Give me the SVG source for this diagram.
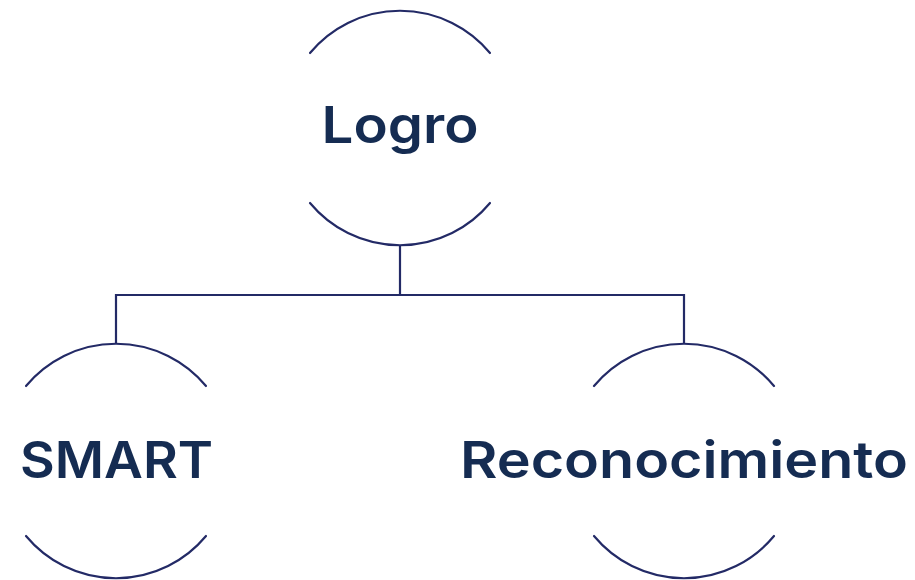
<svg xmlns="http://www.w3.org/2000/svg" width="915" height="580" viewBox="0 0 915 580">
<style>
.arc{fill:none;stroke:#232a66;stroke-width:2.2;stroke-linecap:round}
.con{fill:none;stroke:#232a66;stroke-width:2.2}
.lbl{font-family:Inter,"Open Sans","Liberation Sans",sans-serif;font-weight:600;font-size:51px;fill:#152c52;text-anchor:middle}
</style>
<rect width="915" height="580" fill="#ffffff"/>
<g id="connectors">
<path class="con" d="M400 245 V295 M116 295 H684 M116 294 V344 M684 294 V344"/>
</g>
<g id="node-logro">
<path class="arc" d="M310 53 A117 117 0 0 1 490 53"/>
<path class="arc" d="M310 203 A117 117 0 0 0 490 203"/>
<text class="lbl" x="400" y="143" textLength="157" lengthAdjust="spacingAndGlyphs">Logro</text>
</g>
<g id="node-smart">
<path class="arc" d="M26 386 A117 117 0 0 1 206 386"/>
<path class="arc" d="M26 536 A117 117 0 0 0 206 536"/>
<text class="lbl" x="116.5" y="478" textLength="193" lengthAdjust="spacingAndGlyphs">SMART</text>
</g>
<g id="node-reconocimiento">
<path class="arc" d="M594 386 A117 117 0 0 1 774 386"/>
<path class="arc" d="M594 536 A117 117 0 0 0 774 536"/>
<text class="lbl" x="684" y="478" textLength="448" lengthAdjust="spacingAndGlyphs">Reconocimiento</text>
</g>
</svg>
